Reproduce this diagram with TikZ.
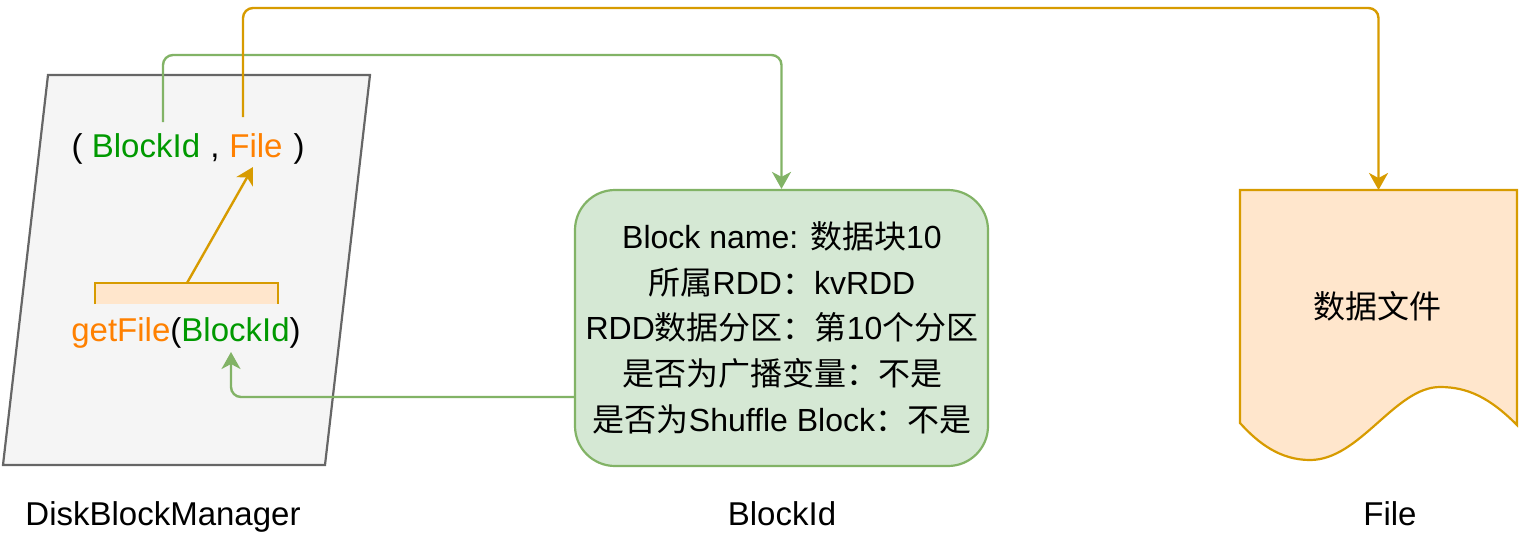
\documentclass[tikz,border=0pt]{standalone}
\usepackage{fontspec}
\setmainfont{Liberation Sans}
\newfontfamily\cjk{Noto Sans CJK SC}
\usetikzlibrary{arrows.meta}
\definecolor{gtext}{RGB}{0,153,0}
\definecolor{otext}{RGB}{255,128,0}
\definecolor{gline}{HTML}{82B366}
\definecolor{oline}{HTML}{D79B00}
\definecolor{gfill}{HTML}{D5E8D4}
\definecolor{ofill}{HTML}{FFE6CC}
\definecolor{pfill}{HTML}{F5F5F5}
\definecolor{pline}{HTML}{666666}
\tikzset{
  txt/.style={inner sep=0pt, anchor=base, font=\fontsize{33}{38}\selectfont},
  btxt/.style={inner sep=0pt, anchor=base, font=\fontsize{32}{38}\selectfont},
  tipstyle/.style={-{Stealth[length=17pt,width=19pt,inset=5pt]}},
  garrow/.style={draw=gline, line width=2.4pt, rounded corners=10pt, tipstyle},
  oarrow/.style={draw=oline, line width=2.4pt, rounded corners=10pt, tipstyle},
}
\begin{document}
\begin{tikzpicture}[x=1pt,y=-1pt]
\useasboundingbox (0,0) rectangle (1525,539);
% parallelogram
\draw[fill=pfill, draw=pline, line width=2.2pt] (48,75) -- (370,75) -- (325,465) -- (3,465) -- cycle;
% bracket
\fill[ofill] (95,283) rectangle (278,304);
\draw[oline, line width=2.4pt] (95,304) -- (95,283) -- (278,283) -- (278,304);
% tuple text
\node[txt] (lp) at (77,157) {(};
\node[txt, text=gtext] (bid1) at (146,157) {BlockId};
\node[txt] (comma) at (215,157) {,};
\node[txt, text=otext] (file1) at (256,157) {File};
\node[txt] (rp) at (299,157) {)};
% getFile text
\node[txt] (getf) at (186,341) {\textcolor{otext}{getFile}(\textcolor{gtext}{BlockId})};
% BlockId box
\node[draw=gline, fill=gfill, line width=2.2pt, rounded corners=40pt, minimum width=413pt, minimum height=276pt, inner sep=0pt] (box) at (781.5,328) {};
\node[btxt] (l1) at (782,248) {Block name: {\cjk 数据块}10};
\node[btxt] (l2) at (782,294) {{\cjk 所属}RDD{\cjk ：}kvRDD};
\node[btxt] (l3) at (782,339) {RDD{\cjk 数据分区：第}10{\cjk 个分区}};
\node[btxt] (l4) at (782,385) {\cjk 是否为广播变量：不是};
\node[btxt] (l5) at (782,431) {{\cjk 是否为}Shuffle Block{\cjk ：不是}};
% document shape
\draw[fill=ofill, draw=oline, line width=2.2pt] (1240,190) -- (1517,190) -- (1517,425)
  .. controls (1490,398) and (1468,387) .. (1440,387)
  .. controls (1395,387) and (1360,460) .. (1310,460)
  .. controls (1280,460) and (1258,443) .. (1240,423) -- cycle;
\coordinate (doc) at (1378.5,190);
\node[txt, font=\fontsize{32}{38}\selectfont\cjk] (doctext) at (1377,318) {数据文件};
% bottom labels
\node[txt] (lab1) at (163,525) {DiskBlockManager};
\node[txt] (lab2) at (782,525) {BlockId};
\node[txt] (lab3) at (1390,525) {File};
% connectors
\coordinate (gs) at (163,122);
\coordinate (os) at (243,117);
\coordinate (bs) at (187,283);
\coordinate (bt) at (253,167);
\coordinate (g3s) at (575,397);
\coordinate (g3t) at (231,352);
\draw[garrow] (gs) -- (163,55) -- (box.north |- 0,55) -- (box.north);
\draw[oarrow] (os) -- (243,8) -- (doc |- 0,8) -- (doc);
\draw[oarrow, rounded corners=0pt] (bs) -- (bt);
\draw[garrow] (g3s) -- (g3t |- g3s) -- (g3t);
\end{tikzpicture}
\end{document}
